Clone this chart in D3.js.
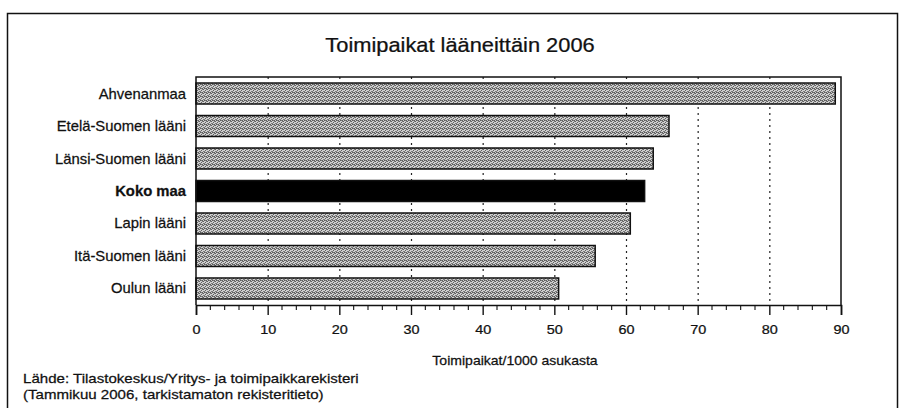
<!DOCTYPE html>
<html>
<head>
<meta charset="utf-8">
<script src="https://cdn.jsdelivr.net/npm/d3@7"></script>
<style>
  html, body { margin: 0; padding: 0; background: #fff; }
  svg { display: block; font-family: "Liberation Sans", Arial, sans-serif; }
</style>
</head>
<body>
<svg id="chart" width="906" height="408"></svg>
<script>
// Toimipaikat per 1000 asukasta, lääneittäin 2006
const categories = ["Ahvenanmaa", "Etelä-Suomen lääni", "Länsi-Suomen lääni", "Koko maa",
                    "Lapin lääni", "Itä-Suomen lääni", "Oulun lääni"];
const values = [89.2, 66.0, 63.8, 62.6, 60.6, 55.7, 50.6];
const highlighted = ["Koko maa"];
const xTicks = [0, 10, 20, 30, 40, 50, 60, 70, 80, 90];
const gridTicks = [10, 20, 30, 40, 50, 60, 70, 80];
const minorTicks = d3.range(0, 91, 2);

const title = "Toimipaikat lääneittäin 2006";
const xTitle = "Toimipaikat/1000 asukasta";
const sourceLines = ["Lähde: Tilastokeskus/Yritys- ja toimipaikkarekisteri",
                     "(Tammikuu 2006, tarkistamaton rekisteritieto)"];

const W = 906, H = 408;
const plot = { left: 196, right: 841, top: 77, bottom: 305 };
const svg = d3.select("#chart");

// text set in a slightly widened, slightly heavy face
function label(g, x, y, size, sx, anchor, txt, weight) {
  return g.append("text")
    .attr("transform", `translate(${x},${y}) scale(${sx},1)`)
    .attr("text-anchor", anchor).attr("font-size", size)
    .attr("font-weight", weight || "normal").attr("fill", "#111")
    .attr("stroke", "#111").attr("stroke-width", 0.25)
    .text(txt);
}

// stippled grey fill for the ordinary bars
const defs = svg.append("defs");
const pat = defs.append("pattern").attr("id", "dither")
  .attr("width", 4).attr("height", 4).attr("patternUnits", "userSpaceOnUse");
pat.append("rect").attr("width", 4).attr("height", 4).attr("fill", "#cfcfcf");
[[0, 0], [2, 1], [1, 2], [3, 3], [2, 0], [0, 3], [3, 1], [1, 0]].forEach(([px, py], i) => {
  pat.append("rect").attr("x", px).attr("y", py).attr("width", 1).attr("height", 1)
    .attr("fill", i % 2 ? "#7a7a7a" : "#5e5e5e");
});

// outer frame
svg.append("rect").attr("x", 7.5).attr("y", 13.5).attr("width", 890).attr("height", 420)
  .attr("fill", "none").attr("stroke", "#111").attr("stroke-width", 1.5);

label(svg, 460, 52, 19.5, 1.12, "middle", title);

const x = d3.scaleLinear().domain([0, 90]).range([plot.left, plot.right]);
const y = d3.scaleBand().domain(categories).range([plot.top, plot.bottom])
  .paddingInner(0.354).paddingOuter(0.185);

// dotted gridlines
svg.append("g").selectAll("line").data(gridTicks).join("line")
  .attr("x1", d => x(d) + 0.5).attr("x2", d => x(d) + 0.5)
  .attr("y1", plot.top).attr("y2", plot.bottom)
  .attr("stroke", "#222").attr("stroke-width", 1.2).attr("stroke-dasharray", "2,4");

// bars
svg.append("g").selectAll("rect").data(categories).join("rect")
  .attr("x", x(0)).attr("y", d => y(d))
  .attr("width", (d, i) => x(values[i]) - x(0))
  .attr("height", y.bandwidth())
  .attr("fill", d => highlighted.includes(d) ? "#000" : "url(#dither)")
  .attr("stroke", "#111").attr("stroke-width", 1.5);

// plot border (left, top, right)
svg.append("path")
  .attr("d", `M${x(0)},${plot.bottom}V${plot.top}H${x(90)}V${plot.bottom}`)
  .attr("fill", "none").attr("stroke", "#111").attr("stroke-width", 1.5);

// x axis: major ticks with labels, minor ticks every 2 units
const xAxis = svg.append("g").attr("transform", `translate(0,${plot.bottom})`)
  .call(d3.axisBottom(x).tickValues(xTicks).tickSize(10).tickFormat(d3.format("d")));
xAxis.select(".domain").attr("stroke", "#111").attr("stroke-width", 1.6);
xAxis.selectAll(".tick line").attr("stroke", "#111").attr("stroke-width", 1.4);
xAxis.selectAll(".tick text").remove();
xAxis.selectAll(".tick").each(function (d) {
  label(d3.select(this), 0, 29, 13, 1.11, "middle", d3.format("d")(d));
});
svg.append("g").selectAll("line").data(minorTicks.filter(d => d % 10 !== 0)).join("line")
  .attr("x1", d => x(d)).attr("x2", d => x(d))
  .attr("y1", plot.bottom).attr("y2", plot.bottom + 5)
  .attr("stroke", "#111").attr("stroke-width", 1.1);

// category labels
const cats = svg.append("g");
categories.forEach(c => {
  label(cats, 186, y(c) + y.bandwidth() / 2 + 5, 14, 1.06, "end", c,
        highlighted.includes(c) ? "bold" : "normal");
});

label(svg, 515, 365, 13, 1.08, "middle", xTitle);

const src = svg.append("g");
sourceLines.forEach((t, i) => label(src, 23, 383 + i * 16, 13, 1.16, "start", t));
</script>
</body>
</html>
